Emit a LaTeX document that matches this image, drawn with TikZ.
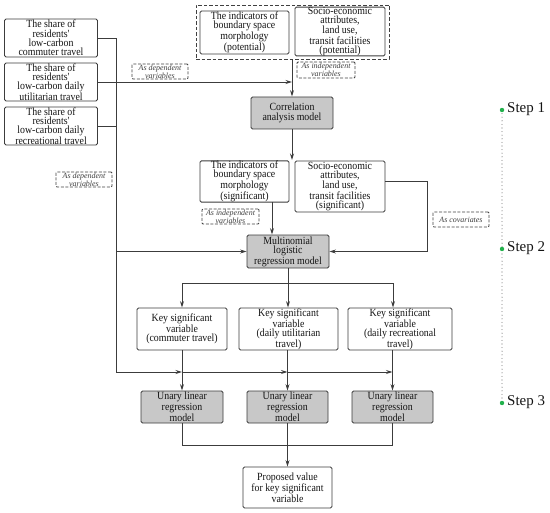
\documentclass[tikz,border=0pt]{standalone}
\usepackage{fontspec}
\setmainfont{Liberation Serif}
\newfontfamily\bxfont[FakeStretch=0.9]{Liberation Serif}
\usetikzlibrary{arrows.meta,calc}
\definecolor{ln}{HTML}{3C3C3C}
\definecolor{gfill}{HTML}{C8C8C8}
\definecolor{stepgreen}{HTML}{22B14C}
\begin{document}
\begin{tikzpicture}[x=1bp,y=-1bp,
 box/.style={draw=ln,line width=0.9bp,rounded corners=1.5bp,align=center,inner sep=0pt,text=black!92,font=\bxfont\fontsize{11}{9.3}\selectfont},
 gbox/.style={box,fill=gfill},
 dlabel/.style={draw=black!75,dash pattern=on 3bp off 1.6bp,line width=0.85bp,rounded corners=1bp,align=center,inner sep=0pt,font=\itshape\fontsize{8}{6.3}\selectfont,text=black!75},
 grpbox/.style={draw=black!75,dash pattern=on 3.5bp off 2bp,line width=0.9bp,inner sep=0pt},
 conn/.style={draw=ln,line width=0.9bp},
 arr/.style={conn,-{Stealth[length=6.5bp,width=4bp]}},
 steplabel/.style={anchor=west,inner sep=0pt,font=\fontsize{15}{15}\selectfont,text=black!92},
]
\path[use as bounding box] (0,0) rectangle (550,513);

% left boxes
\node[box,minimum width=93bp,minimum height=38bp] (L1) at (51,38) {The share of\\residents'\\low-carbon\\commuter travel};
\node[box,minimum width=93bp,minimum height=38bp] (L2) at (51,82) {The share of\\residents'\\low-carbon daily\\utilitarian travel};
\node[box,minimum width=93bp,minimum height=38bp] (L3) at (51,126) {The share of\\residents'\\low-carbon daily\\recreational travel};

% top group
\node[grpbox,minimum width=193bp,minimum height=54bp] (grp) at (292.5,32) {};
\node[box,minimum width=89bp,minimum height=43bp] (T1) at (244.5,32.5) {The indicators of\\boundary space\\morphology\\(potential)};
\node[box,minimum width=90bp,minimum height=47bp] (T2) at (340,31.5) {Socio-economic\\attributes,\\land use,\\transit facilities\\(potential)};

% dashed labels
\node[dlabel,minimum width=56bp,minimum height=15bp] (dep1) at (160,71.5) {As dependent\\variables};
\node[dlabel,minimum width=56bp,minimum height=15bp] (dep2) at (84,179.5) {As dependent\\variables};
\node[dlabel,minimum width=58bp,minimum height=16bp] (ind1) at (326,70) {As independent\\variables};
\node[dlabel,minimum width=57bp,minimum height=15bp] (ind2) at (230.5,216.5) {As independent\\variables};
\node[dlabel,minimum width=56bp,minimum height=15bp] (cov) at (461,219.5) {As covariates};

% models
\node[gbox,minimum width=82bp,minimum height=32bp] (corr) at (292,113) {Correlation\\analysis model};
\node[box,minimum width=89bp,minimum height=41bp] (M1) at (244.5,181.5) {The indicators of\\boundary space\\morphology\\(significant)};
\node[box,minimum width=90bp,minimum height=51bp] (M2) at (340,186.5) {Socio-economic\\attributes,\\land use,\\transit facilities\\(significant)};
\node[gbox,minimum width=82bp,minimum height=33bp] (multi) at (288,251.5) {Multinomial\\logistic\\regression model};

\node[box,minimum width=90bp,minimum height=42bp] (K1) at (182,329) {Key significant\\variable\\(commuter travel)};
\node[box,minimum width=99bp,minimum height=42bp] (K2) at (288.5,329) {Key significant\\variable\\(daily utilitarian\\travel)};
\node[box,minimum width=104bp,minimum height=42bp] (K3) at (400,329) {Key significant\\variable\\(daily recreational\\travel)};

\node[gbox,minimum width=82bp,minimum height=32bp] (U1) at (182,407) {Unary linear\\regression\\model};
\node[gbox,minimum width=81bp,minimum height=32bp] (U2) at (287.5,407) {Unary linear\\regression\\model};
\node[gbox,minimum width=81bp,minimum height=32bp] (U3) at (392.5,407) {Unary linear\\regression\\model};

\node[box,minimum width=89bp,minimum height=41bp] (P) at (287.5,487.5) {Proposed value\\for key significant\\variable};

% connectors
\coordinate (trunkTop) at (116,38);
\coordinate (trunkBot) at (116,372);
\draw[conn] (L1.east) -- (trunkTop) -- (trunkBot);
\draw[conn] (L3.east) -- (L3.east -| trunkTop);
\draw[arr] (L2.east) -- (L2.east -| corr.north);
\draw[arr] (corr.north |- grp.south) -- (corr.north);
\coordinate (gap) at (292,160);
\draw[arr] (corr.south) -- (gap);
\draw[arr] (trunkTop |- multi.west) -- (multi.west);
\coordinate (m2r) at (385,181);
\coordinate (covx) at (427,181);
\draw[arr] (m2r) -- (covx) |- (multi.east);
\coordinate (m1b) at (272,202);
\draw[arr] (m1b) -- (m1b |- multi.north);

\coordinate (split) at (288,283);
\coordinate (col3) at (393,283);
\draw[conn] (multi.south) -- (split);
\draw[conn] (K1.north |- split) -- (col3);
\draw[arr] (K1.north |- split) -- (K1.north);
\draw[arr] (split) -- (split |- K2.north);
\draw[arr] (col3) -- (col3 |- K3.north);

\draw[arr] (K1.south) -- (U1.north);
\draw[arr] (K2.south -| U2.north) -- (U2.north);
\draw[arr] (U3.north |- K3.south) -- (U3.north);

\draw[arr] (trunkBot) -- (trunkBot -| U1.north);
\draw[arr] (trunkBot -| U1.north) -- (trunkBot -| U2.north);
\draw[arr] (trunkBot -| U2.north) -- (trunkBot -| U3.north);

\coordinate (merge) at (288,445);
\draw[conn] (U1.south) -- (U1.south |- merge) -- (U3.south |- merge) -- (U3.south);
\draw[arr] (U2.south) -- (P.north);

% steps
\coordinate (d1) at (502,110);
\coordinate (d2) at (502,249);
\coordinate (d3) at (502,403);
\draw[black!55,line width=1.1bp,line cap=round,dash pattern=on 0bp off 3.6bp] (d1) -- (d3);
\fill[stepgreen] (d1) circle (2.2bp);
\fill[stepgreen] (d2) circle (2.2bp);
\fill[stepgreen] (d3) circle (2.2bp);
\node[steplabel] (s1) at (507,109) {Step 1};
\node[steplabel] (s2) at (507,248) {Step 2};
\node[steplabel] (s3) at (507,402) {Step 3};
\end{tikzpicture}
\end{document}
